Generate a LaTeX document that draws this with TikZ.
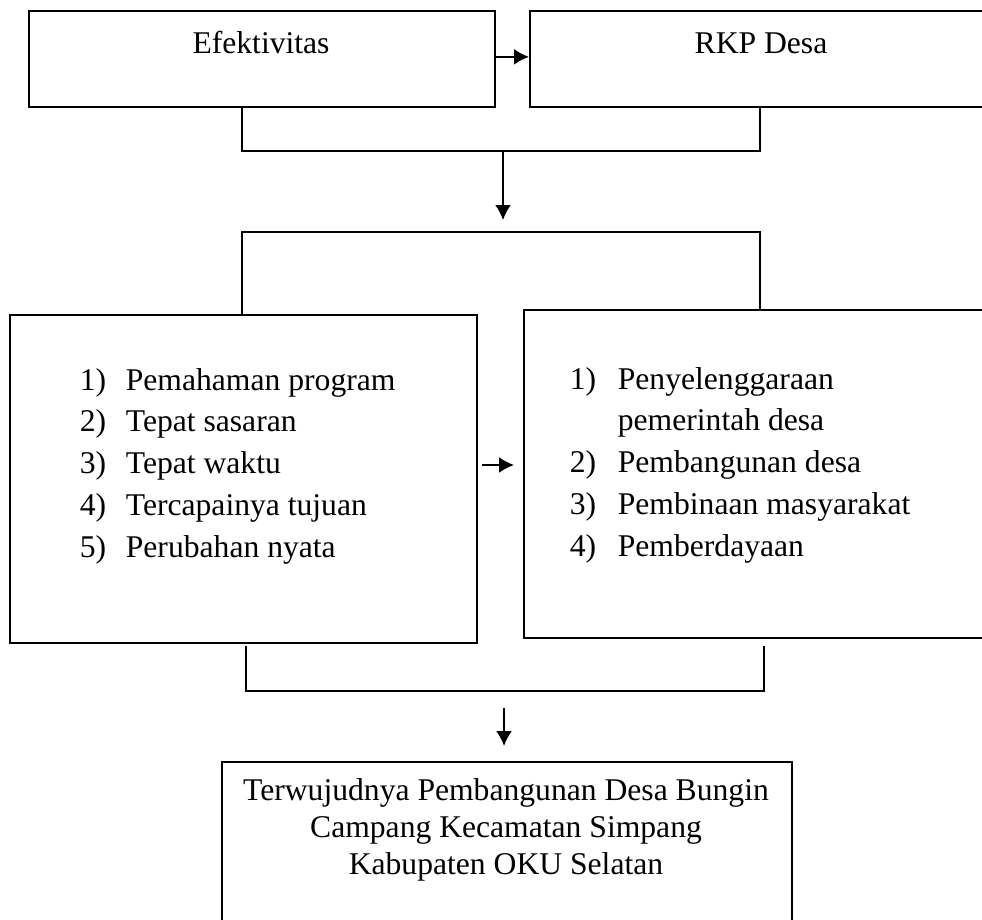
\documentclass[tikz,border=0pt]{standalone}
\usepackage{fontspec}
\setmainfont{Liberation Serif}
\usetikzlibrary{arrows.meta}
\tikzset{>={Latex[length=8.5pt,width=9pt]}}
\tikzset{box/.style={draw, line width=1pt, inner sep=0pt, anchor=north west},
  txt/.style={font=\fontsize{18}{23.9}\selectfont, inner sep=0pt}}

\begin{document}
\begin{tikzpicture}[x=0.02cm, y=-0.02cm, line width=1pt]
\useasboundingbox (0,0) rectangle (982,919);

% upper boxes
\node[box, minimum width=9.32cm, minimum height=1.92cm] (efek) at (28,10) {};
\node[box, minimum width=9.4cm, minimum height=1.92cm] (rkp) at (529,10) {};
\node[txt, anchor=base] (efekT) at (261,53) {Efektivitas};
\node[txt, anchor=base] (rkpT) at (761,53) {RKP Desa};
\draw[->] ([yshift=0.04cm]efek.east) -- ([yshift=0.04cm]rkp.west);

\coordinate (j1) at (242,151);
\coordinate (j2) at (760,151);
\draw (j1 |- efek.south) -- (j1) -- (j2) -- (j2 |- rkp.south);
\coordinate (a1) at (503,151);
\coordinate (a2) at (503,220);
\draw[->] (a1) -- (a2);

% middle boxes
\node[box, minimum width=9.34cm, minimum height=6.56cm] (prog) at (9,314) {};
\node[box, minimum width=9.4cm, minimum height=6.56cm] (pemb) at (523,309) {};
\coordinate (k1) at (242,232);
\coordinate (k2) at (760,232);
\draw (k1 |- prog.north) -- (k1) -- (k2) -- (k2 |- pemb.north);

\node[txt, anchor=base west] (progT) at (79,390) {\begin{tabular}[t]{@{}p{0.92cm}@{}l@{}}
1) & Pemahaman program\\
2) & Tepat sasaran\\
3) & Tepat waktu\\
4) & Tercapainya tujuan\\
5) & Perubahan nyata
\end{tabular}};
\node[txt, anchor=base west] (pembT) at (569,389) {\begin{tabular}[t]{@{}p{0.96cm}@{}l@{}}
1) & Penyelenggaraan\\
   & pemerintah desa\\
2) & Pembangunan desa\\
3) & Pembinaan masyarakat\\
4) & Pemberdayaan
\end{tabular}};
\coordinate (m1) at (482,465);
\coordinate (m2) at (514,465);
\draw[->] (m1) -- (m2);

% lower part
\coordinate (l1a) at (246,646);
\coordinate (l1) at (246,691);
\coordinate (l2) at (764,691);
\coordinate (l2a) at (764,646);
\draw (l1a) -- (l1) -- (l2) -- (l2a);
\coordinate (b1) at (504,708);
\coordinate (b2) at (504,746);
\draw[->] (b1) -- (b2);

\node[box, minimum width=11.4cm, minimum height=3.6cm] (hasil) at (221,761) {};
\node[txt, anchor=base] (hasilT) at (506,800) {\fontsize{18}{21.3}\selectfont\begin{tabular}[t]{@{}c@{}}
Terwujudnya Pembangunan Desa Bungin\\
Campang Kecamatan Simpang\\
Kabupaten OKU Selatan
\end{tabular}};

\end{tikzpicture}
\end{document}
